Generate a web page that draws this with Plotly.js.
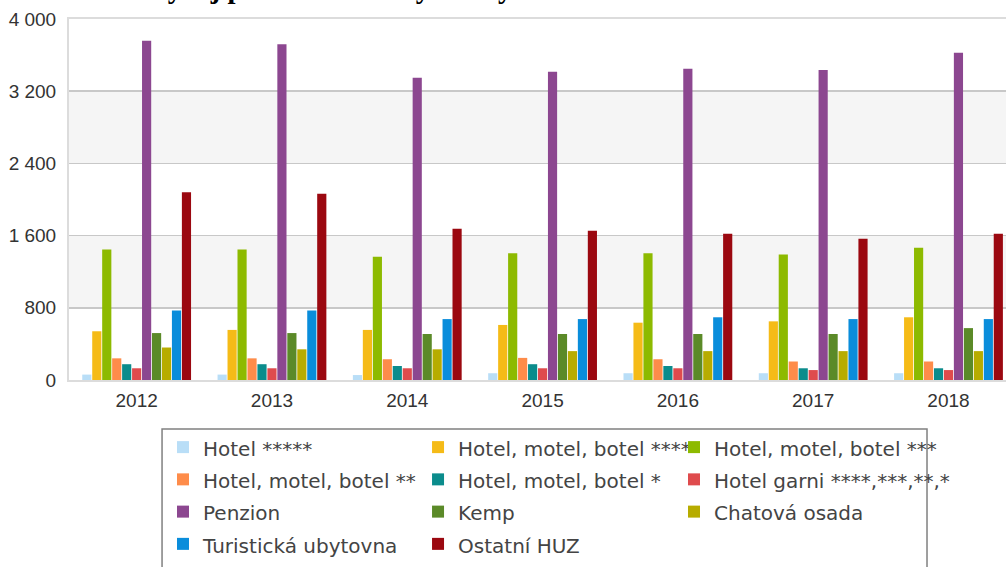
<!DOCTYPE html>
<html>
<head>
<meta charset="utf-8">
<script src="https://cdn.plot.ly/plotly-3.0.1.min.js"></script>
<style>html,body{margin:0;padding:0;overflow:hidden;background:#fff;}#chart{width:1006px;height:567px;}</style>
</head>
<body>
<div id="chart"></div>
<script>
const years = ['2012','2013','2014','2015','2016','2017','2018'];
const seriesNames = ['Hotel *****','Hotel, motel, botel ****','Hotel, motel, botel ***','Hotel, motel, botel **','Hotel, motel, botel *','Hotel garni ****,***,**,*','Penzion','Kemp','Chatová osada','Turistická ubytovna','Ostatní HUZ'];
const hotel5  = [60, 60, 55, 75, 75, 75, 75];
const hotel4  = [540, 555, 555, 610, 635, 650, 695];
const hotel3  = [1445, 1445, 1365, 1405, 1405, 1390, 1465];
const hotel2  = [240, 240, 230, 245, 230, 205, 205];
const hotel1  = [175, 175, 155, 175, 155, 130, 130];
const garni   = [130, 130, 130, 130, 130, 110, 110];
const penzion = [3760, 3720, 3350, 3415, 3450, 3435, 3625];
const kemp    = [520, 520, 510, 510, 510, 510, 575];
const chatova = [360, 340, 340, 320, 320, 320, 320];
const turist  = [770, 770, 675, 675, 695, 675, 675];
const ostatni = [2080, 2065, 1675, 1655, 1620, 1565, 1620];
const yTicks = [0, 800, 1600, 2400, 3200, 4000];
const titleText = 'Vývoj počtu hromadných ubytovacích zařízení';

const values = [hotel5, hotel4, hotel3, hotel2, hotel1, garni, penzion, kemp, chatova, turist, ostatni];
const colors = ['#b9def7','#f5bb17','#8dba00','#fe8c4a','#0b8c8c','#df4b4d','#8c4790','#5b8a28','#b7ac00','#0a8ddb','#9b0810'];
const legendIds = ['legend', 'legend2', 'legend3'];

const traces = values.map((v, i) => ({
  type: 'bar',
  name: '<span style="font-size:20px">' + seriesNames[i] + '</span>',
  legend: legendIds[i % 3],
  x: years,
  y: v,
  marker: {color: colors[i], line: {width: 0}},
  hoverinfo: 'x+y'
}));

const shapes = [];
for (let i = 1; i < yTicks.length - 1; i += 2) {
  shapes.push({type: 'rect', xref: 'paper', yref: 'y', x0: 0, x1: 1, y0: yTicks[i], y1: yTicks[i+1],
    fillcolor: '#f5f5f5', line: {width: 0}, layer: 'below'});
}
// legend frame
shapes.push({type: 'rect', xref: 'paper', yref: 'paper', x0: 0.0993, x1: 0.9157, y0: -0.1357, y1: -0.62,
  fillcolor: 'rgba(0,0,0,0)', line: {color: '#808080', width: 1.5}, layer: 'above'});

const legendBase = {
  orientation: 'v', xanchor: 'left', y: -0.1274, yanchor: 'top',
  borderwidth: 0, bgcolor: 'rgba(0,0,0,0)',
  font: {family: 'DejaVu Sans, sans-serif', size: 22.5, color: '#444'},
  traceorder: 'normal'
};

const layout = {
  width: 1006, height: 567,
  margin: {l: 69, r: 0, t: 19, b: 187, pad: 0, autoexpand: false},
  paper_bgcolor: '#fff', plot_bgcolor: '#fff',
  separators: ', ',
  barmode: 'group', bargap: 0.19, bargroupgap: 0.08,
  showlegend: true,
  shapes: shapes,
  font: {family: 'Liberation Sans, Arial, sans-serif', color: '#333'},
  xaxis: {
    type: 'category', range: [-0.5, 6.425],
    showline: true, linecolor: '#dcdcdc', linewidth: 2, mirror: true,
    showgrid: false, ticks: '', ticklabelstandoff: 2,
    tickfont: {size: 19, color: '#333', family: 'Liberation Sans, Arial, sans-serif'}
  },
  yaxis: {
    range: [0, 4000], tickvals: yTicks, tickformat: ',d',
    showline: true, linecolor: '#dcdcdc', linewidth: 2,
    showgrid: true, gridcolor: '#c8c8c8', gridwidth: 1.5, zeroline: false,
    ticks: '', ticklabelstandoff: 7,
    tickfont: {size: 19, color: '#333', family: 'Liberation Sans, Arial, sans-serif'}
  },
  legend:  Object.assign({}, legendBase, {x: 0.1003}),
  legend2: Object.assign({}, legendBase, {x: 0.3725}),
  legend3: Object.assign({}, legendBase, {x: 0.6457}),
  annotations: [{
    text: '<b>' + titleText + '</b>', xref: 'paper', yref: 'paper',
    x: 0.081, xanchor: 'left', y: 1.035, yanchor: 'bottom', showarrow: false,
    font: {family: 'Liberation Serif, Times New Roman, serif', size: 28.7, color: '#000'}
  }]
};

Plotly.newPlot('chart', traces, layout, {displayModeBar: false, staticPlot: true});
</script>
</body>
</html>
